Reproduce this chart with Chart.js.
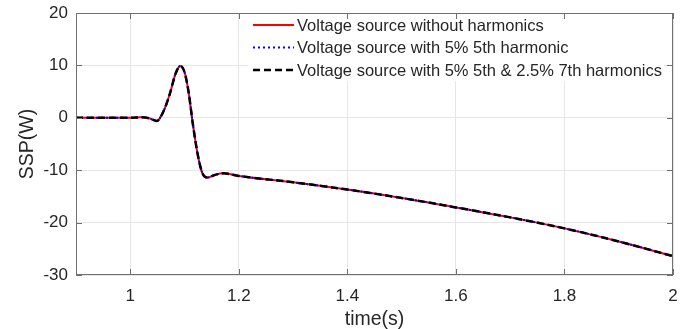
<!DOCTYPE html>
<html>
<head>
<meta charset="utf-8">
<script src="https://cdn.jsdelivr.net/npm/chart.js@4"></script>
<style>
  html, body { margin: 0; padding: 0; background: #fff; }
  #wrap { width: 689px; height: 329px; }
</style>
</head>
<body>
<div id="wrap"><canvas id="sspChart" width="689" height="329"></canvas></div>
<script>
// время, с
const timeS = [0.9, 1.0, 1.02, 1.035, 1.049, 1.061, 1.073, 1.083, 1.092, 1.1, 1.107, 1.116, 1.125, 1.133, 1.142, 1.156, 1.171, 1.2, 1.3, 1.4, 1.5, 1.6, 1.7, 1.8, 1.9, 2.0];
// SSP, Вт (три кривые на картинке совпадают)
const sspNoHarmonics = [0, 0, 0.1, -0.1, -0.6, 1.2, 4.6, 8.3, 9.9, 8.7, 5.2, -1.7, -7.4, -10.6, -11.4, -10.9, -10.6, -11.1, -12.3, -13.7, -15.3, -17.1, -19.0, -21.1, -23.6, -26.4];
const ssp5th = [0, 0, 0.1, -0.1, -0.6, 1.2, 4.6, 8.3, 9.9, 8.7, 5.2, -1.7, -7.4, -10.6, -11.4, -10.9, -10.6, -11.1, -12.3, -13.7, -15.3, -17.1, -19.0, -21.1, -23.6, -26.4];
const ssp5th7th = [0, 0, 0.1, -0.1, -0.6, 1.2, 4.6, 8.3, 9.9, 8.7, 5.2, -1.7, -7.4, -10.6, -11.4, -10.9, -10.6, -11.1, -12.3, -13.7, -15.3, -17.1, -19.0, -21.1, -23.6, -26.4];
const seriesNames = [
    'Voltage source without harmonics',
    'Voltage source with 5% 5th harmonic',
    'Voltage source with 5% 5th & 2.5% 7th harmonics'
];
const xTicks = [1, 1.2, 1.4, 1.6, 1.8, 2];
const yTicks = [-30, -20, -10, 0, 10, 20];

const FONT = '"Liberation Sans", Arial, sans-serif';
const TEXT = '#262626';
const AXIS = '#707070';

const toPoints = ys => ys.map((y, i) => ({ x: timeS[i], y: y }));

// чёрная пунктирная сверху, красная снизу
const styles = [
    { color: '#ff0000', width: 2, dash: [], order: 3 },
    { color: '#0000ff', width: 2, dash: [2, 3], order: 2 },
    { color: '#000000', width: 2.5, dash: [7, 4], order: 1 }
];

// рамка, внутренние засечки и легенда как в MATLAB
const matlabBox = {
    id: 'matlabBox',
    afterDatasetsDraw(chart) {
        const ctx = chart.ctx;
        const a = chart.chartArea;
        // легенда
        ctx.save();
        ctx.fillStyle = '#fff';
        ctx.fillRect(248, a.top + 1, 416, 67);
        const rows = [a.top + 12, a.top + 34.5, a.top + 57];
        seriesNames.forEach((name, i) => {
            const s = styles[i];
            ctx.beginPath();
            ctx.strokeStyle = s.color;
            ctx.lineWidth = s.width;
            ctx.setLineDash(s.dash);
            ctx.moveTo(253, rows[i]);
            ctx.lineTo(294, rows[i]);
            ctx.stroke();
            ctx.setLineDash([]);
            ctx.fillStyle = TEXT;
            ctx.font = '16.5px ' + FONT;
            ctx.textBaseline = 'middle';
            ctx.textAlign = 'left';
            ctx.fillText(name, 297, rows[i] + 1);
        });
        ctx.restore();
    },
    afterDraw(chart) {
        const { ctx, chartArea: a, scales } = chart;
        ctx.save();
        ctx.strokeStyle = AXIS;
        ctx.lineWidth = 1;
        ctx.strokeRect(a.left + 0.5, a.top + 0.5, a.right - a.left - 1, a.bottom - a.top - 1);
        const tl = 6;
        ctx.beginPath();
        xTicks.forEach(v => {
            const px = Math.round(scales.x.getPixelForValue(v)) + 0.5;
            ctx.moveTo(px, a.bottom); ctx.lineTo(px, a.bottom - tl);
            ctx.moveTo(px, a.top); ctx.lineTo(px, a.top + tl);
        });
        yTicks.forEach(v => {
            const py = Math.round(scales.y.getPixelForValue(v)) + 0.5;
            ctx.moveTo(a.left, py); ctx.lineTo(a.left + tl, py);
            ctx.moveTo(a.right, py); ctx.lineTo(a.right - tl, py);
        });
        ctx.stroke();
        ctx.restore();
    }
};

new Chart(document.getElementById('sspChart').getContext('2d'), {
    type: 'line',
    data: {
        datasets: [sspNoHarmonics, ssp5th, ssp5th7th].map((ys, i) => ({
            label: seriesNames[i],
            data: toPoints(ys),
            borderColor: styles[i].color,
            borderWidth: styles[i].width,
            borderDash: styles[i].dash,
            order: styles[i].order,
            pointRadius: 0,
            fill: false,
            cubicInterpolationMode: 'monotone'
        }))
    },
    options: {
        responsive: false,
        animation: false,
        layout: { padding: { top: 13, right: 16, left: 0, bottom: 0 } },
        plugins: { legend: { display: false }, tooltip: { enabled: false } },
        scales: {
            x: {
                type: 'linear',
                min: 0.9,
                max: 2,
                afterBuildTicks: scale => { scale.ticks = xTicks.map(v => ({ value: v })); },
                afterFit: scale => {
                    scale.height = 54;
                    scale.paddingLeft = 0;
                    scale.paddingRight = 0;
                },
                border: { display: false },
                grid: { color: '#e6e6e6', drawTicks: false },
                ticks: {
                    padding: 11,
                    color: TEXT,
                    font: { family: FONT, size: 17 },
                    maxRotation: 0,
                    callback: v => String(v)
                },
                title: {
                    display: true,
                    text: 'time(s)',
                    color: TEXT,
                    font: { family: FONT, size: 19.5, lineHeight: 1 },
                    padding: { top: 0, bottom: 0 }
                }
            },
            y: {
                min: -30,
                max: 20,
                afterBuildTicks: scale => { scale.ticks = yTicks.map(v => ({ value: v })); },
                afterFit: scale => {
                    scale.width = 76;
                    scale.paddingTop = 0;
                    scale.paddingBottom = 0;
                },
                border: { display: false },
                grid: { color: '#e6e6e6', drawTicks: false },
                ticks: {
                    padding: 8,
                    color: TEXT,
                    font: { family: FONT, size: 17 }
                },
                title: {
                    display: true,
                    text: 'SSP(W)',
                    color: TEXT,
                    font: { family: FONT, size: 19.5, lineHeight: 1 },
                    padding: { top: 18, bottom: 0 }
                }
            }
        }
    },
    plugins: [matlabBox]
});
</script>
</body>
</html>
